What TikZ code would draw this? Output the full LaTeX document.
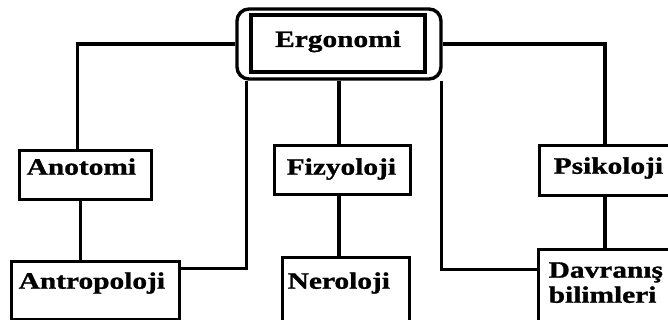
\documentclass[tikz,border=0pt]{standalone}
\usepackage{fontspec}
\newfontfamily\lab{Liberation Serif}[FakeStretch=1.25,FakeBold=1.2]
\begin{document}
\begin{tikzpicture}[x=1pt,y=-1pt,
  every node/.style={font=\lab\bfseries\fontsize{23.5}{26}\selectfont},
  ln/.style={line width=3.4pt},
  box/.style={draw,line width=3.4pt,rectangle,anchor=north west,align=left,inner ysep=0pt}]
\useasboundingbox (0,0) rectangle (668,320);
% Ergonomi
\node[draw,line width=3.4pt,rounded corners=12pt,minimum width=204pt,minimum height=70pt,inner sep=0pt] (ergo) at (339,44) {};
\node[draw,line width=3.4pt,minimum width=174pt,inner sep=0pt,text height=32pt,text depth=25pt] (ergotext) at (338,43.5) {Ergonomi};
% boxes
\node[box,inner xsep=7pt,text width=118pt,text height=24pt,text depth=25pt] (anotomi) at (18,149) {Anotomi};
\node[box,inner xsep=7pt,text width=154pt,text height=27pt,text depth=31pt] (antro) at (10,260) {Antropoloji};
\node[box,inner xsep=12pt,text width=112pt,text height=29pt,text depth=20pt] (fizyo) at (273,144) {Fizyoloji};
\node[box,inner xsep=5pt,text width=117pt,text height=31pt,text depth=33pt] (nero) at (281,256) {Neroloji};
\node[box,inner xsep=14pt,text width=112pt,text height=28pt,text depth=22pt] (psiko) at (538,144) {Psikoloji};
\node[box,inner xsep=10pt,text width=120pt,text height=28pt,text depth=54pt] (davr) at (537,248) {\begin{tabular}[t]{@{}l@{}}Davranış\\[-1pt]bilimleri\end{tabular}};
% connectors
\draw[ln] (ergo.west) -| ([xshift=-8pt]anotomi.north);
\draw[ln] ([xshift=-5pt]anotomi.south) -- ([xshift=-5pt]anotomi.south |- antro.north);
\draw[ln] ([xshift=11pt]ergo.south west) |- ([yshift=22pt]antro.east);
\draw[ln] (ergo.south) -- (ergo.south |- fizyo.north);
\draw[ln] (fizyo.south -| ergo.south) -- (nero.north -| ergo.south);
\draw[ln] (ergo.east) -| ([xshift=67pt]psiko.north west);
\draw[ln] ([xshift=67pt]psiko.south west) -- ([xshift=67pt]psiko.south west |- davr.north);
\draw[ln] ([xshift=-1pt]ergo.south east) |- ([yshift=21pt]davr.west);
\end{tikzpicture}
\end{document}
